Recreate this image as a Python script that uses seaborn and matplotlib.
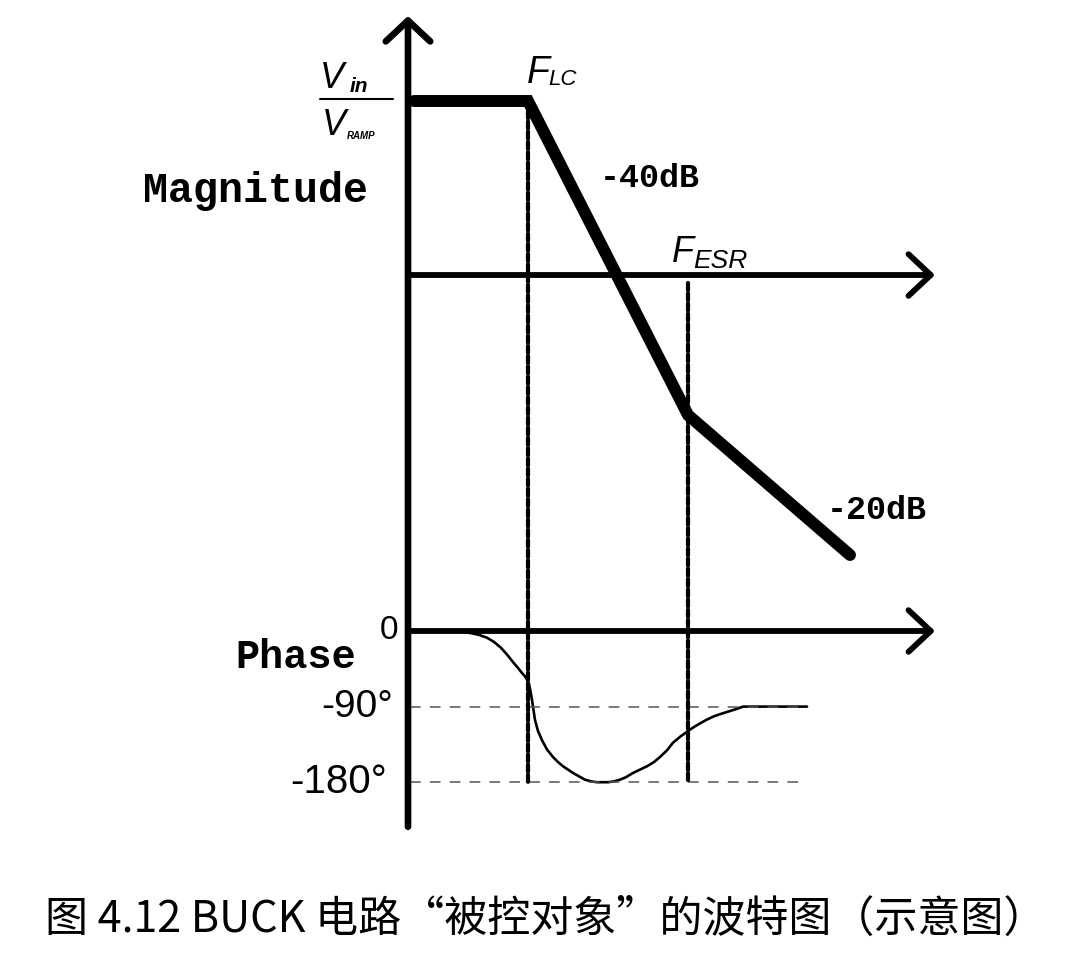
import numpy as np
import pandas as pd
import seaborn as sns
import matplotlib.pyplot as plt
from matplotlib.patches import ConnectionPatch

# magnitude asymptote (x in arbitrary freq units, y in gain units, 0 = magnitude axis)
mag_freq = [0.6, 12.0, 28.0, 44.2]
mag_gain = [17.4, 17.4, -14.0, -28.0]

# corner frequencies
f_lc = 12.0
f_esr = 28.0

# phase curve, degrees
phase_freq = [0.0, 4.5, 5.5, 6.5, 7.2, 7.9, 8.6, 9.3, 9.9, 10.5, 11.0, 11.4, 11.7, 11.9,
              12.1, 12.2, 12.3, 12.4, 12.55, 12.7, 13.0, 13.4, 13.9, 14.5, 15.0, 15.5,
              16.0, 16.5, 17.1, 17.7, 18.3, 18.9, 19.5, 20.0, 20.6, 21.2, 21.8, 22.5,
              23.2, 23.9, 24.6, 25.2, 25.9, 26.5, 27.2, 27.9, 28.5, 29.2, 29.8, 30.5,
              31.2, 32.0, 32.8, 33.5, 39.9]
phase_deg = [0, 0, -1, -3, -5, -8, -13, -20, -28, -37, -44, -50, -54, -58,
             -63, -69, -75, -82, -94, -106, -119, -130, -141, -150, -156, -161,
             -165, -169, -173, -177, -179, -180, -180, -180, -179, -177, -174, -169,
             -165, -161, -156, -150, -142, -133, -126, -120, -115, -110, -106, -102,
             -99, -96, -93, -90, -90]

# phase reference levels (dashed)
ref_levels = [-90, -180]
ref_start, ref_end = 0.2, 39.7
phase_ticks = [0, -90, -180]
phase_tick_labels = ['0', '-90°', '-180°']
phase_tick_sizes = [24, 28, 29]
phase_tick_x = [-1.0, -1.5, -2.1]

# axis extents
freq_axis_end = 52.7
mag_axis_top = 25.9
phase_axis_bottom = -233

sns.set_style('white')
plt.rcParams['font.family'] = ['Liberation Sans', 'DejaVu Sans']
plt.rcParams['text.color'] = 'black'

fig = plt.figure(figsize=(10.8, 9.72), dpi=100)
ax_m = fig.add_axes([0, 1 - 600 / 972, 1, 600 / 972])
ax_p = fig.add_axes([0, 1 - 880 / 972, 1, 280 / 972])

# magnitude
sns.lineplot(x=mag_freq, y=mag_gain, sort=False, ax=ax_m, color='black',
             linewidth=8.6, solid_capstyle='round', solid_joinstyle='miter')
ax_m.set_xlim(-40.8, 67.2)
ax_m.set_ylim(-32.5, 27.5)
ax_m.axis('off')

# phase
sns.lineplot(x=phase_freq, y=phase_deg, sort=False, ax=ax_p, color='black',
             linewidth=1.9, solid_joinstyle='round')
ax_p.hlines(ref_levels, ref_start, ref_end, colors='#555555', linewidth=1.1,
            linestyles=[(0, (7, 6))])
ax_p.set_xlim(-40.8, 67.2)
ax_p.set_ylim(-296.4, 36.9)
ax_p.axis('off')

# axes arrows
arrow = dict(arrowstyle='->,head_length=0.8,head_width=0.75', lw=4.2, color='black',
             mutation_scale=20, shrinkA=0, shrinkB=0)
ax_m.annotate('', xy=(freq_axis_end, 0), xytext=(0, 0), arrowprops=arrow, annotation_clip=False)
ax_p.annotate('', xy=(freq_axis_end, 0), xytext=(0, 0), arrowprops=arrow, annotation_clip=False)
vaxis = ConnectionPatch(xyA=(0, phase_axis_bottom), coordsA=ax_p.transData,
                        xyB=(0, mag_axis_top), coordsB=ax_m.transData,
                        arrowstyle='->,head_length=0.75,head_width=0.8', lw=4.8,
                        color='black', mutation_scale=20, shrinkA=0, shrinkB=0)
fig.add_artist(vaxis)

# dotted frequency markers
for f, g in [(f_lc, mag_gain[1]), (f_esr, -0.8)]:
    con = ConnectionPatch(xyA=(f, g), coordsA=ax_m.transData,
                          xyB=(f, -180), coordsB=ax_p.transData,
                          lw=3.0, color='black', linestyle=(0, (1.7, 0.75)))
    fig.add_artist(con)

# labels - magnitude
mono = dict(family='Liberation Mono', weight='bold', color='black')
ax_m.text(-26.5, 8.4, 'Magnitude', fontsize=30, va='center', ha='left', **mono)
ax_m.text(19.2, 9.7, '-40dB', fontsize=24, va='center', ha='left', **mono)
ax_m.text(41.9, -23.5, '-20dB', fontsize=24, va='center', ha='left', **mono)

ax_m.text(11.9, 19.2, 'F', fontsize=27, style='italic', va='baseline', ha='left')
ax_m.text(14.0, 19.0, 'LC', fontsize=16, style='italic', va='baseline', ha='left')
ax_m.text(26.4, 1.3, 'F', fontsize=26, style='italic', va='baseline', ha='left')
ax_m.text(28.5, 0.7, 'ESR', fontsize=19, style='italic', va='baseline', ha='left')

# Vin / VRAMP
ax_m.text(-8.8, 18.7, 'V', fontsize=26, style='italic', va='baseline', ha='left')
ax_m.text(-5.8, 18.3, 'in', fontsize=15, style='italic', weight='bold', va='baseline', ha='left')
ax_m.plot([-8.8, -1.5], [17.6, 17.6], color='black', lw=1.5, clip_on=False)
ax_m.text(-8.6, 14.0, 'V', fontsize=26, style='italic', va='baseline', ha='left')
ax_m.text(-6.1, 13.6, 'RAMP', fontsize=7, style='italic', weight='bold', va='baseline', ha='left')

# labels - phase
ax_p.text(-17.3, -31, 'Phase', fontsize=29, va='center', ha='left', **mono)
for t, lab, s, xt in zip(phase_ticks, phase_tick_labels, phase_tick_sizes, phase_tick_x):
    ax_p.text(xt, t, lab, fontsize=s, va='center', ha='right')

fig.text(0.505, 1 - 920 / 972, '图 4.12 BUCK 电路“被控对象”的波特图（示意图）',
         fontsize=31, ha='center', va='center', weight='light',
         family=['Noto Sans CJK SC', 'DejaVu Sans'])

plt.savefig('out.png', dpi=100)
